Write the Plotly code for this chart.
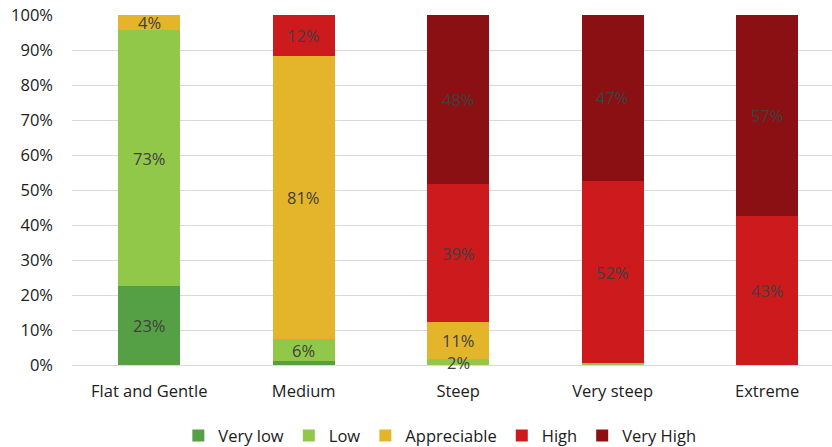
import plotly.graph_objects as go

categories = ["Flat and Gentle", "Medium", "Steep", "Very steep", "Extreme"]
series_names = ["Very low", "Low", "Appreciable", "High", "Very High"]
very_low = [22.6, 1.1, 0.0, 0.0, 0.0]
low = [73.0, 6.2, 1.6, 0.5, 0.0]
appreciable = [4.4, 81.0, 10.8, 0.0, 0.0]
high = [0.0, 11.7, 39.2, 52.1, 42.6]
very_high = [0.0, 0.0, 48.4, 47.4, 57.4]
colors = ["#55A044", "#92C84A", "#E4B52A", "#CC1A1D", "#8B1014"]
y_ticks = [0, 10, 20, 30, 40, 50, 60, 70, 80, 90, 100]

series = [very_low, low, appreciable, high, very_high]
FONT = "Open Sans"
TXT = "#404040"

fig = go.Figure()
for name, vals, col in zip(series_names, series, colors):
    fig.add_trace(go.Bar(
        x=categories, y=vals, name=name,
        marker=dict(color=col, line=dict(width=0)),
    ))

# data labels centered in each segment
base = [0.0] * len(categories)
for vals in series:
    for i, v in enumerate(vals):
        if v >= 1.5:
            fig.add_annotation(
                x=categories[i], y=base[i] + v / 2, text=f"{round(v)}%",
                showarrow=False, font=dict(family=FONT, size=16.5, color=TXT),
                xref="x", yref="y",
            )
        base[i] += v

fig.update_layout(
    barmode="stack",
    bargap=0.6,
    width=832, height=447,
    margin=dict(l=72, r=0, t=15, b=82, autoexpand=False),
    paper_bgcolor="white", plot_bgcolor="white",
    font=dict(family=FONT, size=16.5, color=TXT),
    legend=dict(
        orientation="h", x=0.484, xanchor="center",
        yref="container", y=0.025, yanchor="middle",
        font=dict(family=FONT, size=16.5, color="#202020"),
        itemwidth=30, traceorder="normal",
    ),
    showlegend=True,
)
fig.update_xaxes(
    range=[-0.5, 4.42], showgrid=False, zeroline=False,
    showline=False, ticks="", ticklabelstandoff=14,
    tickfont=dict(family=FONT, size=16.5, color="#202020"),
)
fig.update_yaxes(
    range=[0, 100], tickvals=y_ticks, ticktext=[f"{t}%" for t in y_ticks],
    showgrid=True, gridcolor="#D9D9D9", gridwidth=1,
    zeroline=True, zerolinecolor="#D9D9D9", zerolinewidth=1,
    ticks="", ticklabelstandoff=18,
    tickfont=dict(family=FONT, size=16.5, color="#202020"),
)

fig.write_html("out.html")
